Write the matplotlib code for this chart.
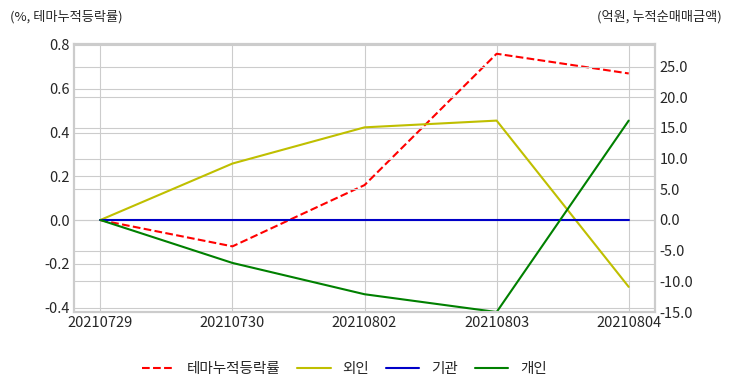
import matplotlib
matplotlib.use('Agg')
import matplotlib.pyplot as plt
from matplotlib.ticker import FormatStrFormatter, MultipleLocator

dates = ['20210729', '20210730', '20210802', '20210803', '20210804']
theme_rate = [0.0, -0.12, 0.16, 0.76, 0.67]      # %, 테마누적등락률
foreign = [0.0, 9.2, 15.1, 16.2, -10.9]          # 외인 (억원)
institution = [0.0, 0.0, 0.0, 0.0, 0.0]          # 기관
individual = [0.0, -7.0, -12.1, -15.0, 16.2]     # 개인

plt.style.use('seaborn-v0_8-whitegrid')
plt.rcParams['font.family'] = ['Noto Sans CJK KR', 'DejaVu Sans']
plt.rcParams['axes.unicode_minus'] = False
plt.rcParams['font.size'] = 10.5

fig = plt.figure(figsize=(7.32, 3.92), dpi=100)
ax = fig.add_axes([0.101, 0.204, 0.794, 0.684])
ax2 = ax.twinx()

x = range(len(dates))
l1, = ax.plot(x, theme_rate, 'r--', lw=1.5, label='테마누적등락률')
l2, = ax2.plot(x, foreign, color='y', lw=1.5, label='외인')
l3, = ax2.plot(x, institution, color='#0000c8', lw=1.5, label='기관')
l4, = ax2.plot(x, individual, color='g', lw=1.5, label='개인')

ax.set_xlim(-0.2, 4.2)
ax.set_xticks(list(x))
ax.set_xticklabels(dates)
ax.set_ylim(-0.42, 0.805)
ax.yaxis.set_major_locator(MultipleLocator(0.2))
ax.yaxis.set_major_formatter(FormatStrFormatter('%.1f'))
ax2.set_ylim(-15, 28.7)
ax2.yaxis.set_major_locator(MultipleLocator(5))
ax2.yaxis.set_major_formatter(FormatStrFormatter('%.1f'))

for a in (ax, ax2):
    a.tick_params(colors='.15', labelsize=10.5, pad=3)
    for s in a.spines.values():
        s.set_visible(True)
        s.set_color('.8')
        s.set_linewidth(1.5)
ax2.grid(True, color='.8')

fig.text(0.013, 0.958, '(%, 테마누적등락률)', fontsize=9.5, color='.15', va='center')
fig.text(0.986, 0.958, '(억원, 누적순매매금액)', fontsize=9.5, color='.15', va='center', ha='right')

fig.legend(handles=[l1, l2, l3, l4], loc='center', bbox_to_anchor=(0.47, 0.058),
           ncol=4, frameon=False, fontsize=10.5, columnspacing=1.15, handlelength=2.3)

fig.savefig('out.png', dpi=100)
